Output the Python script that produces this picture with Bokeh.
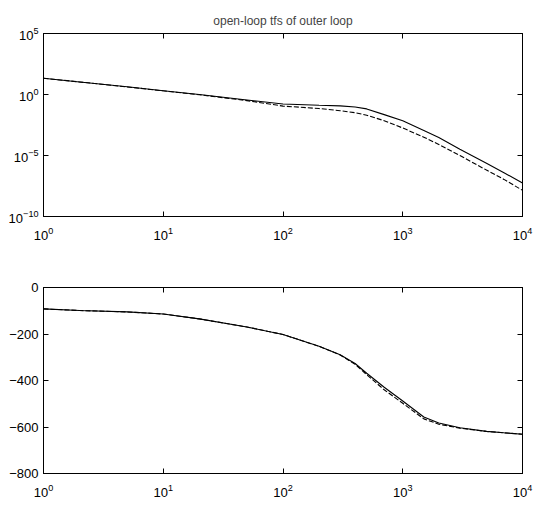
from bokeh.plotting import figure
from bokeh.models import FixedTicker, LogAxis, LinearAxis, CustomJSTickFormatter, Range1d
from bokeh.layouts import column
from bokeh.embed import file_html
from bokeh.resources import INLINE

# ---- data ----
freq = [1, 2, 5, 10, 20, 50, 100, 200, 300, 400, 500, 700, 1000, 1500, 2000, 3000, 5000, 7000, 10000]

mag_upper = [21.4, 10.7, 4.27, 2.04, 1.0, 0.355, 0.166, 0.132, 0.117, 0.095, 0.066, 0.0224, 7.1e-3,
             1.12e-3, 3.0e-4, 3.2e-5, 2.3e-6, 3.9e-7, 5.6e-8]
mag_lower = [21.4, 10.7, 4.17, 2.0, 0.95, 0.316, 0.112, 0.071, 0.047, 0.032, 0.020, 7.1e-3, 1.8e-3,
             3.2e-4, 8.1e-5, 1.0e-5, 6.4e-7, 1.1e-7, 1.4e-8]

phase_a = [-92, -99, -105, -114, -135, -170, -202, -253, -289, -327, -369, -429, -488,
           -557, -583, -603, -619, -625, -631]
phase_b = [-92, -99, -105, -114, -135, -170, -202, -253, -290, -330, -375, -440, -498,
           -565, -588, -605, -619, -625, -631]

x_ticks = [1, 10, 100, 1000, 10000]
mag_ticks = [1e-10, 1e-5, 1, 1e5]
phase_ticks = [-800, -600, -400, -200, 0]

title_text = "open-loop tfs of outer loop"

FONT = "Liberation Sans"
W = 533


def style_axis(ax, show_labels=True):
    ax.major_tick_in = 5
    ax.major_tick_out = 0
    ax.minor_tick_in = 0
    ax.minor_tick_out = 0
    ax.axis_line_color = "black"
    ax.major_tick_line_color = "black"
    ax.major_label_text_font = FONT
    ax.major_label_text_color = "black"
    if show_labels:
        ax.major_label_text_font_size = "13px"
    else:
        ax.formatter = CustomJSTickFormatter(code="return ''")
        ax.major_label_text_font_size = "1px"
        ax.major_label_standoff = 0


# ---- top: magnitude ----
p1 = figure(width=W, height=250, x_axis_type="log", y_axis_type="log",
            x_range=Range1d(1, 1e4), y_range=Range1d(1e-10, 1e5),
            output_backend="svg", toolbar_location=None,
            min_border_left=43, min_border_right=11, min_border_top=33, min_border_bottom=34)
p1.title.text = title_text
p1.title.align = "center"
p1.title.text_font = FONT
p1.title.text_font_size = "12px"
p1.title.text_font_style = "normal"
p1.title.standoff = 11
p1.grid.visible = False
p1.outline_line_color = "black"
p1.outline_line_alpha = 1

p1.xaxis.ticker = FixedTicker(ticks=x_ticks)
p1.yaxis.ticker = FixedTicker(ticks=mag_ticks)
for ax in p1.xaxis + p1.yaxis:
    style_axis(ax)
p1.xaxis.major_label_standoff = 10
p1.yaxis.major_label_standoff = 5

ax_r = LogAxis(ticker=FixedTicker(ticks=mag_ticks))
style_axis(ax_r, False)
p1.add_layout(ax_r, "right")
ax_t = LogAxis(ticker=FixedTicker(ticks=x_ticks))
style_axis(ax_t, False)
p1.add_layout(ax_t, "above")

p1.line(freq, mag_upper, line_color="black", line_width=1.1)
p1.line(freq, mag_lower, line_color="black", line_width=1.1, line_dash="5 2")

# ---- bottom: phase ----
p2 = figure(width=W, height=250, x_axis_type="log",
            x_range=Range1d(1, 1e4), y_range=Range1d(-800, 0),
            output_backend="svg", toolbar_location=None,
            min_border_left=43, min_border_right=11, min_border_top=37, min_border_bottom=27)
p2.grid.visible = False
p2.outline_line_color = "black"
p2.xaxis.ticker = FixedTicker(ticks=x_ticks)
p2.yaxis.ticker = FixedTicker(ticks=phase_ticks)
for ax in p2.xaxis + p2.yaxis:
    style_axis(ax)
p2.xaxis.major_label_standoff = 10
p2.yaxis.major_label_standoff = 5

ax_r2 = LinearAxis(ticker=FixedTicker(ticks=phase_ticks))
style_axis(ax_r2, False)
p2.add_layout(ax_r2, "right")
ax_t2 = LogAxis(ticker=FixedTicker(ticks=x_ticks))
style_axis(ax_t2, False)
p2.add_layout(ax_t2, "above")

p2.line(freq, phase_a, line_color="black", line_width=1.1)
p2.line(freq, phase_b, line_color="black", line_width=1.1, line_dash="5 2")

layout = column(p1, p2, spacing=0)

open("out.html", "w").write(file_html(layout, INLINE))
